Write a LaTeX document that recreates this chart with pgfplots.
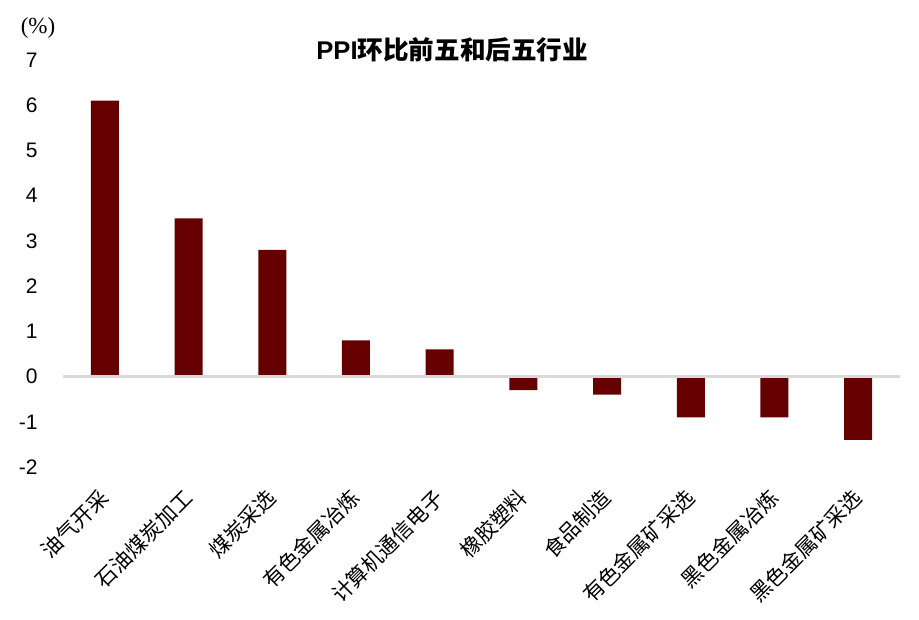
\documentclass[border=0pt]{standalone}
\usepackage{fontspec}
\setmainfont{Liberation Sans}
\newfontfamily\cjk{Noto Sans CJK SC}
\newfontfamily\serif{Liberation Serif}
\usepackage{pgfplots}
\pgfplotsset{compat=1.18}
\definecolor{barred}{HTML}{660000}
\definecolor{zeroline}{HTML}{D9D9D9}

\begin{document}
\begin{tikzpicture}
\begin{axis}[
    scale only axis,
    width=418.5bp, height=203.5bp,
    ybar, bar width=14bp, bar shift=0pt,
    xmin=-0.5, xmax=9.5,
    ymin=-2, ymax=7,
    xtick={0,...,9},
    xticklabels={油气开采,石油煤炭加工,煤炭采选,有色金属冶炼,计算机通信电子,橡胶塑料,食品制造,有色金属矿采选,黑色金属冶炼,黑色金属矿采选},
    ytick={-2,...,7},
    axis line style={draw=none},
    major tick length=0pt,
    tick style={draw=none},
    extra y ticks={0},
    extra y tick labels={},
    extra y tick style={grid=major, major grid style={zeroline, line width=1.5bp}},
    axis on top,
    /pgf/number format/assume math mode=true,
    yticklabel style={font=\fontsize{10.5bp}{12bp}\selectfont, anchor=east, inner sep=0pt, xshift=-12.5bp},
    xticklabel style={font=\cjk\fontsize{10.5bp}{12bp}\selectfont, inner sep=0pt, yshift=-13.5bp, rotate=45, anchor=east},
    title={\textbf{PPI}{\cjk\bfseries 环比前五和后五行业}},
    title style={font=\fontsize{12.8bp}{14bp}\selectfont, at={(0.465,1)}, anchor=base, inner sep=0pt, yshift=-5.5bp},
]
\addplot[fill=barred, draw=none] coordinates {
    (0,6.1) (1,3.5) (2,2.8) (3,0.8) (4,0.6)
    (5,-0.3) (6,-0.4) (7,-0.9) (8,-0.9) (9,-1.4)
};
\coordinate (sw) at (rel axis cs:0,0);
\coordinate (nw) at (rel axis cs:0,1);
\end{axis}
\node[font=\serif\fontsize{11.5bp}{13bp}\selectfont, inner sep=0pt] at ([xshift=-12.5bp, yshift=16bp]nw) {(\%)};
\pgfresetboundingbox
\path (sw) ++(-31.5bp,-76.5bp) rectangle ++(459.5bp,310bp);
\end{tikzpicture}
\end{document}
